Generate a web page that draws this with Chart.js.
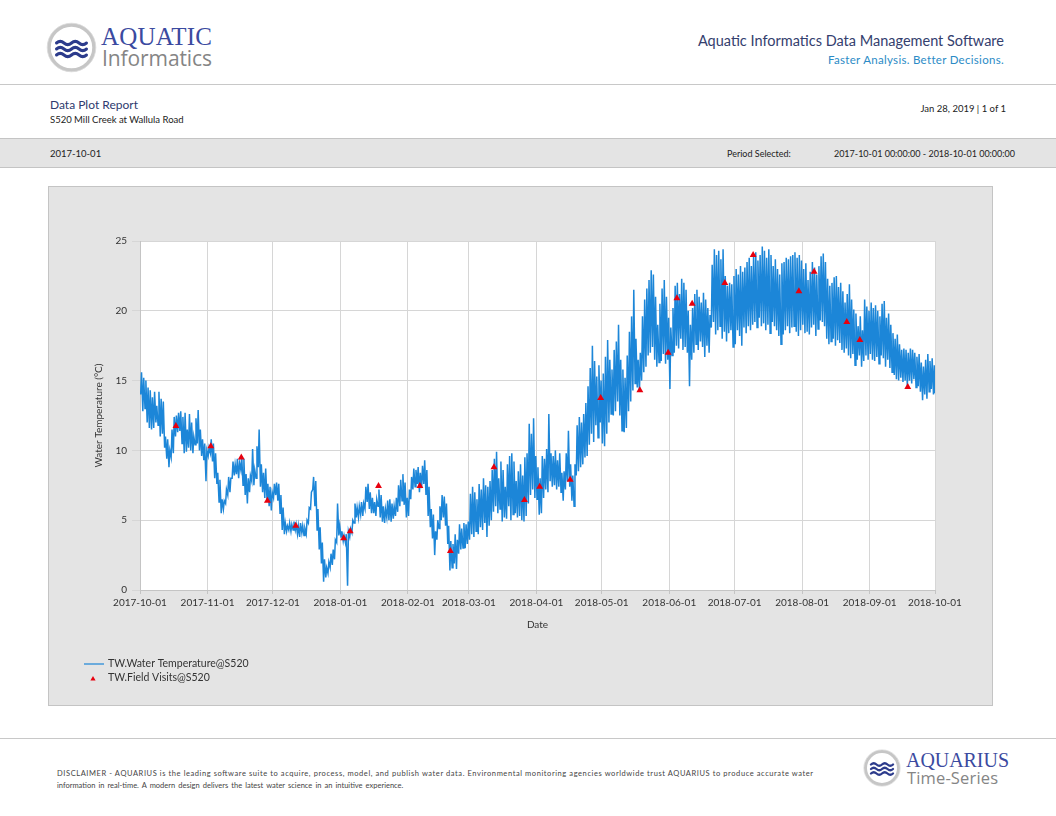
<!DOCTYPE html>
<html>
<head>
<meta charset="utf-8">
<title>Data Plot Report - S520 Mill Creek at Wallula Road</title>
<script src="https://cdn.jsdelivr.net/npm/chart.js@4.4.1/dist/chart.umd.min.js"></script>
<style>
  html, body { margin: 0; padding: 0; background: #fff; }
  #page { position: relative; width: 1056px; height: 816px; overflow: hidden; }
  #frame { position: absolute; left: 0; top: 0; }
  #chartPanel {
    position: absolute; left: 48px; top: 186px; width: 945px; height: 520px;
    box-sizing: border-box; border: 1px solid #c4c4c4; background: #e4e4e4;
  }
</style>
</head>
<body>
<div id="page">
  <svg id="frame" width="1056" height="816" xmlns="http://www.w3.org/2000/svg">
    <!-- cabecera -->
    <g transform="translate(71.5,47.5)">
      <circle r="22.5" fill="#fff" stroke="#c6c6c6" stroke-width="3.5"/>
      <circle r="24.3" fill="none" stroke="#dadada" stroke-width="0.8"/>
      <g fill="none" stroke="#2c3b8c" stroke-width="3" stroke-linecap="round">
        <path d="M-15 -4.5 q3.75 -3.2 7.5 0 t7.5 0 t7.5 0 t7.5 0"/>
        <path d="M-15 1.5 q3.75 -3.2 7.5 0 t7.5 0 t7.5 0 t7.5 0"/>
        <path d="M-15 7.5 q3.75 -3.2 7.5 0 t7.5 0 t7.5 0 t7.5 0"/>
      </g>
    </g>
    <text x="101" y="45" font-family="Liberation Serif" font-size="25" fill="#3b4aa0" textLength="111">AQUATIC</text>
    <text x="102" y="66" font-family="Open Sans" font-size="21" fill="#858585" textLength="110">Informatics</text>
    <text x="1004" y="46" text-anchor="end" font-family="Lato" font-size="14.5" fill="#34406e">Aquatic Informatics Data Management Software</text>
    <text x="1004" y="64" text-anchor="end" font-family="Lato" font-size="11.5" fill="#2b8bc6" letter-spacing="0.3">Faster Analysis. Better Decisions.</text>
    <line x1="0" y1="84.5" x2="1056" y2="84.5" stroke="#c8c8c8" stroke-width="1"/>

    <text x="50" y="109" font-family="Lato" font-size="12" fill="#2e3a6e">Data Plot Report</text>
    <text x="50" y="122.5" font-family="Lato" font-size="9.5" fill="#222">S520 Mill Creek at Wallula Road</text>
    <text x="1006" y="111.5" text-anchor="end" font-family="Lato" font-size="9.5" fill="#222">Jan 28, 2019 | 1 of 1</text>

    <rect x="0" y="138" width="1056" height="30" fill="#e4e4e4"/>
    <line x1="0" y1="138.5" x2="1056" y2="138.5" stroke="#c4c4c4" stroke-width="1"/>
    <line x1="0" y1="167.5" x2="1056" y2="167.5" stroke="#c4c4c4" stroke-width="1"/>
    <text x="50" y="156.5" font-family="Lato" font-size="9.5" fill="#222">2017-10-01</text>
    <text x="727" y="156.5" font-family="Lato" font-size="9" fill="#222">Period Selected:</text>
    <text x="1015" y="156.5" text-anchor="end" font-family="Lato" font-size="9" fill="#222">2017-10-01 00:00:00 - 2018-10-01 00:00:00</text>

    <!-- pie de página -->
    <line x1="0" y1="738.5" x2="1056" y2="738.5" stroke="#c8c8c8" stroke-width="1"/>
    <text x="57" y="776" font-family="Lato" font-size="7.5" fill="#444" textLength="756" lengthAdjust="spacing">DISCLAIMER - AQUARIUS is the leading software suite to acquire, process, model, and publish water data. Environmental monitoring agencies worldwide trust AQUARIUS to produce accurate water</text>
    <text x="57" y="788" font-family="Lato" font-size="7.5" fill="#444" word-spacing="1.2">information in real-time. A modern design delivers the latest water science in an intuitive experience.</text>
    <g transform="translate(882,768)">
      <circle r="16.5" fill="#fff" stroke="#c6c6c6" stroke-width="3"/>
      <circle r="18.2" fill="none" stroke="#dadada" stroke-width="0.7"/>
      <g fill="none" stroke="#2c3b8c" stroke-width="2.3" stroke-linecap="round">
        <path d="M-11 -3.5 q2.75 -2.4 5.5 0 t5.5 0 t5.5 0 t5.5 0"/>
        <path d="M-11 1 q2.75 -2.4 5.5 0 t5.5 0 t5.5 0 t5.5 0"/>
        <path d="M-11 5.5 q2.75 -2.4 5.5 0 t5.5 0 t5.5 0 t5.5 0"/>
      </g>
    </g>
    <text x="906" y="767" font-family="Liberation Serif" font-size="20" fill="#3b4aa0" textLength="103">AQUARIUS</text>
    <text x="907" y="784" font-family="Open Sans" font-size="16.5" fill="#858585" textLength="91">Time-Series</text>
  </svg>

  <div id="chartPanel"><canvas id="plot"></canvas></div>
</div>

<script>
// Periodo del informe y etiquetas del eje X (inicio de cada mes)
const periodStart = '2017-10-01';
const monthTicks = [
  '2017-10-01', '2017-11-01', '2017-12-01', '2018-01-01', '2018-02-01', '2018-03-01', '2018-04-01',
  '2018-05-01', '2018-06-01', '2018-07-01', '2018-08-01', '2018-09-01', '2018-10-01'
];

// TW.Water Temperature@S520: mínimo y máximo diario (°C), un día por valor desde 2017-10-01
const dailyLow = [
  // oct
  14.0,12.8,13.0,12.0,11.6,11.5,11.6,12.0,11.8,11.0,11.2,10.2,9.4,8.8,9.5,9.8,11.0,11.3,11.4,10.5,9.8,9.9,10.2,10.0,9.8,10.4,10.5,10.0,9.6,9.3,7.8,
  // nov
  9.6,9.8,9.2,8.0,7.6,6.3,5.5,5.8,6.2,6.8,7.0,8.0,8.2,8.3,8.0,8.6,7.5,6.8,6.2,7.0,7.8,7.5,8.0,8.8,7.4,7.0,6.6,6.5,6.0,5.7,
  // dic
  6.6,6.8,6.4,5.5,4.3,4.0,4.2,4.3,4.2,4.3,4.3,4.0,3.8,4.1,3.9,4.0,4.8,5.8,7.2,6.0,4.3,2.9,1.9,0.6,0.9,1.2,1.6,1.8,2.2,3.4,3.9,
  // ene
  3.8,3.5,3.4,0.3,3.8,4.1,4.8,5.2,5.2,5.4,5.3,5.8,6.3,5.8,5.5,5.5,5.3,6.0,5.2,4.9,4.8,5.2,5.0,4.9,5.1,5.3,5.6,6.0,6.4,6.1,5.2,
  // feb
  5.3,6.5,7.2,7.4,7.6,7.0,7.3,7.6,6.8,5.3,4.5,3.7,2.5,3.6,4.4,5.0,5.2,4.6,3.3,1.4,1.6,1.9,1.5,2.6,2.9,3.0,3.0,3.3,
  // mar
  3.6,4.0,3.8,4.2,4.0,4.5,4.3,4.8,3.8,4.6,5.0,5.6,6.0,5.5,5.8,4.9,5.2,5.1,6.0,5.0,5.4,5.5,5.2,5.3,5.0,4.9,5.3,6.2,6.8,7.2,6.6,
  // abr
  6.5,5.4,5.5,6.6,7.2,7.0,7.8,7.4,7.5,7.2,7.4,7.0,6.4,7.2,7.8,7.4,6.4,6.0,8.2,8.5,8.8,9.0,9.5,9.6,10.4,11.2,10.6,11.8,10.9,12.0,
  // may
  10.5,10.3,11.2,12.0,12.6,12.5,12.8,13.5,12.5,11.4,11.3,11.6,12.8,13.5,14.3,14.8,14.5,14.2,15.0,15.6,16.0,16.8,17.0,17.4,16.5,16.0,16.3,16.4,16.9,16.2,16.5,
  // jun
  14.4,16.8,17.0,17.5,17.3,18.0,17.2,17.4,17.0,14.6,16.5,17.0,17.6,17.2,17.8,17.4,16.7,17.5,17.0,18.8,19.2,18.3,18.6,18.9,18.0,18.5,17.8,18.4,18.6,17.4,
  // jul
  17.6,18.6,18.2,17.5,18.8,18.4,18.9,18.6,19.0,19.2,18.8,19.5,18.9,19.1,18.6,19.0,18.4,19.2,18.9,18.6,18.2,17.6,18.3,18.6,18.9,18.4,18.8,18.9,18.5,18.2,18.6,
  // ago
  19.0,18.4,18.5,18.3,18.8,19.0,18.2,18.7,19.3,19.2,18.9,18.0,17.6,17.8,18.0,17.5,17.9,17.7,17.2,17.0,17.3,16.8,16.6,16.9,16.1,16.5,16.8,16.0,16.4,16.8,16.5,
  // sep
  16.9,16.5,16.4,16.7,16.2,16.8,16.6,16.0,16.5,15.9,15.6,15.4,15.1,15.0,15.2,14.9,15.0,14.6,15.0,14.8,15.1,14.5,14.6,14.2,13.6,14.0,13.7,14.2,14.4,14.0
];
const dailyHigh = [
  // oct
  15.6,15.2,15.0,14.5,14.3,13.8,14.2,13.2,14.2,13.7,13.5,11.0,10.8,10.0,11.5,12.4,12.5,12.7,12.8,12.4,12.7,11.5,12.6,12.0,11.0,12.3,12.9,11.5,10.8,10.5,10.0,
  // nov
  10.2,10.8,10.5,9.8,8.4,7.9,6.5,6.4,7.2,8.1,8.0,9.2,9.0,9.4,9.1,9.6,9.4,8.3,8.0,8.2,10.1,8.6,10.3,11.5,9.0,8.4,8.7,7.6,7.4,7.0,
  // dic
  7.6,7.7,7.6,6.8,5.9,4.8,4.6,4.8,4.7,4.9,4.7,4.6,4.8,4.6,4.4,5.0,5.9,7.0,8.1,7.8,5.8,4.5,3.4,2.2,1.6,2.0,2.6,2.9,3.6,6.2,4.6,
  // ene
  4.2,3.9,4.0,4.2,4.4,5.0,6.2,5.9,6.0,6.3,6.2,7.4,7.6,7.0,6.6,6.3,6.5,7.2,6.8,6.0,5.8,6.4,6.5,6.2,6.0,6.6,7.5,7.9,8.3,7.7,6.6,
  // feb
  7.2,8.1,8.7,8.6,8.8,8.4,8.9,9.3,8.6,7.4,5.8,5.4,4.2,5.0,6.0,6.8,6.7,6.2,4.6,3.5,3.3,4.0,3.6,4.7,4.4,4.8,4.7,4.9,
  // mar
  6.9,7.4,7.0,6.5,7.6,7.2,8.0,7.5,7.4,7.8,8.6,9.4,9.9,8.0,9.2,8.6,7.4,9.0,9.6,9.8,9.2,7.8,8.5,9.0,8.2,9.5,9.8,11.9,11.2,12.3,9.6,
  // abr
  8.8,8.0,9.6,9.4,10.1,12.6,9.8,9.6,10.0,9.3,9.8,8.4,8.5,9.8,11.4,9.0,8.2,9.0,11.8,12.4,12.0,12.6,13.4,14.6,15.9,17.5,16.4,15.3,16.1,15.0,
  // may
  15.5,16.7,17.9,16.5,15.8,17.2,17.8,19.0,16.5,15.8,15.2,16.8,18.5,19.6,21.5,18.0,16.5,17.0,19.6,20.8,21.6,22.2,22.9,22.6,21.0,19.0,20.5,21.6,22.2,21.0,19.5,
  // jun
  18.8,20.2,21.8,22.0,21.2,22.3,22.0,21.5,20.0,19.0,20.2,21.2,21.5,21.0,20.6,21.3,20.8,20.2,19.7,23.3,24.4,24.0,24.3,23.7,24.4,22.5,21.8,22.0,21.9,22.5,
  // jul
  23.0,22.6,23.2,22.8,23.1,23.5,23.8,23.2,23.9,24.2,23.6,24.0,24.6,24.3,23.8,24.4,24.0,23.2,23.7,23.0,22.6,23.4,23.5,23.8,23.7,23.9,24.0,24.2,23.8,24.0,23.6,
  // ago
  23.0,23.4,22.2,22.8,23.5,23.1,22.6,23.2,23.9,24.1,23.5,22.3,21.8,22.0,22.4,22.5,21.7,22.0,21.4,20.6,21.2,21.9,20.8,20.1,19.8,18.9,19.6,18.6,20.8,20.3,20.0,
  // sep
  20.6,20.2,20.4,20.0,19.6,20.5,20.7,19.5,19.8,19.0,18.4,18.0,18.3,17.6,17.2,17.3,17.2,17.0,17.3,17.2,17.0,16.7,16.9,16.3,16.0,16.5,16.9,16.4,16.6,16.1
];
// última lectura, 2018-10-01 00:00
const finalReading = 14.1;

// TW.Field Visits@S520
const visitDates = [
  '2017-10-17', '2017-11-02', '2017-11-16', '2017-11-28', '2017-12-11', '2018-01-02', '2018-01-05',
  '2018-01-18', '2018-02-06', '2018-02-20', '2018-03-12', '2018-03-26', '2018-04-02', '2018-04-16',
  '2018-04-30', '2018-05-18', '2018-05-31', '2018-06-04', '2018-06-11', '2018-06-26', '2018-07-09',
  '2018-07-30', '2018-08-06', '2018-08-21', '2018-08-27', '2018-09-18'
];
const visitValues = [
  11.75, 10.3, 9.5, 6.4, 4.6, 3.7, 4.2,
  7.45, 7.45, 2.8, 8.8, 6.45, 7.4, 7.9,
  13.75, 14.3, 17.0, 20.9, 20.5, 22.0, 24.0,
  21.4, 22.8, 19.2, 17.9, 14.55
];

const DAY_MS = 86400000;

// días transcurridos desde el inicio del periodo
function dayIndex(iso) {
    return (Date.parse(iso + 'T00:00:00Z') - Date.parse(periodStart + 'T00:00:00Z')) / DAY_MS;
}

// Rellena el área de trazado de blanco sobre el fondo gris del panel
const plotBackground = {
    id: 'plotBackground',
    beforeDraw(chart) {
        const { ctx, chartArea } = chart;
        ctx.save();
        ctx.fillStyle = '#ffffff';
        ctx.fillRect(chartArea.left, chartArea.top, chartArea.right - chartArea.left, chartArea.bottom - chartArea.top);
        ctx.restore();
    }
};

// Leyenda apilada abajo a la izquierda, como en el informe original
const stackedLegend = {
    id: 'stackedLegend',
    afterDraw(chart, args, opts) {
        const ctx = chart.ctx;
        ctx.save();
        ctx.font = opts.font;
        ctx.textBaseline = 'middle';
        chart.data.datasets.forEach((ds, i) => {
            const y = opts.top + i * opts.rowHeight;
            if (ds.showLine === false) {
                ctx.fillStyle = ds.pointBackgroundColor;
                ctx.strokeStyle = ds.pointBorderColor;
                Chart.helpers.drawPoint(ctx, { pointStyle: ds.pointStyle, radius: 3, rotation: 0, borderWidth: 0 }, opts.left + 9, y + 1);
            } else {
                ctx.strokeStyle = ds.borderColor;
                ctx.lineWidth = 1.2;
                ctx.beginPath();
                ctx.moveTo(opts.left, y + 0.5);
                ctx.lineTo(opts.left + 20, y + 0.5);
                ctx.stroke();
            }
            ctx.fillStyle = opts.color;
            ctx.fillText(ds.label, opts.left + 24, y);
        });
        ctx.restore();
    }
};

class DataPlotReport {
    constructor() {
        this.canvas = document.getElementById('plot');
        this.chart = null;
    }

    puntosTemperatura() {
        const pts = [];
        dailyLow.forEach((lo, d) => {
            pts.push({ x: d + 0.3, y: lo });
            pts.push({ x: d + 0.7, y: dailyHigh[d] });
        });
        pts.push({ x: dailyLow.length, y: finalReading });
        return pts;
    }

    puntosVisitas() {
        return visitDates.map((dt, i) => ({ x: dayIndex(dt) + 0.5, y: visitValues[i] }));
    }

    opciones() {
        const tickDays = monthTicks.map(dayIndex);
        const axisText = { color: '#333', font: { size: 10 } };
        return {
            responsive: true,
            maintainAspectRatio: false,
            animation: false,
            layout: { padding: { left: 41, right: 57, top: 54, bottom: 70 } },
            plugins: {
                legend: { display: false },
                tooltip: { enabled: false },
                stackedLegend: { left: 35, top: 476.5, rowHeight: 14.5, font: '10.5px Lato', color: '#333' }
            },
            scales: {
                x: {
                    type: 'linear',
                    min: tickDays[0],
                    max: tickDays[tickDays.length - 1],
                    afterBuildTicks: scale => { scale.ticks = tickDays.map(v => ({ value: v })); },
                    afterFit: scale => { scale.height = 45; },
                    ticks: {
                        ...axisText, autoSkip: false, maxRotation: 0, padding: 3,
                        callback: (value, index) => monthTicks[index]
                    },
                    grid: { color: '#d6d6d6', tickColor: '#c4c4c4', tickLength: 4 },
                    border: { color: '#c4c4c4' },
                    title: { display: true, text: 'Date', ...axisText, padding: { top: 4, bottom: 4 } }
                },
                y: {
                    min: 0,
                    max: 25,
                    afterFit: scale => { scale.width = 50; },
                    ticks: { ...axisText, stepSize: 5, padding: 5 },
                    grid: { color: '#d6d6d6', tickColor: '#d6d6d6', tickLength: 8 },
                    border: { color: '#c4c4c4' },
                    title: { display: true, text: 'Water Temperature (°C)', ...axisText, padding: { top: 3, bottom: 0 } }
                }
            }
        };
    }

    dibujar() {
        Chart.defaults.font.family = 'Lato, "Open Sans", sans-serif';
        this.chart = new Chart(this.canvas.getContext('2d'), {
            type: 'line',
            data: {
                datasets: [{
                    label: 'TW.Water Temperature@S520',
                    data: this.puntosTemperatura(),
                    borderColor: '#1c86d8',
                    borderWidth: 1.5,
                    pointRadius: 0,
                    tension: 0,
                    order: 1
                }, {
                    label: 'TW.Field Visits@S520',
                    data: this.puntosVisitas(),
                    showLine: false,
                    pointStyle: 'triangle',
                    pointRadius: 4,
                    pointBorderWidth: 0,
                    pointBackgroundColor: '#e8000e',
                    pointBorderColor: '#e8000e',
                    order: 0
                }]
            },
            options: this.opciones(),
            plugins: [plotBackground, stackedLegend]
        });
    }
}

const report = new DataPlotReport();
report.dibujar();
</script>
</body>
</html>
